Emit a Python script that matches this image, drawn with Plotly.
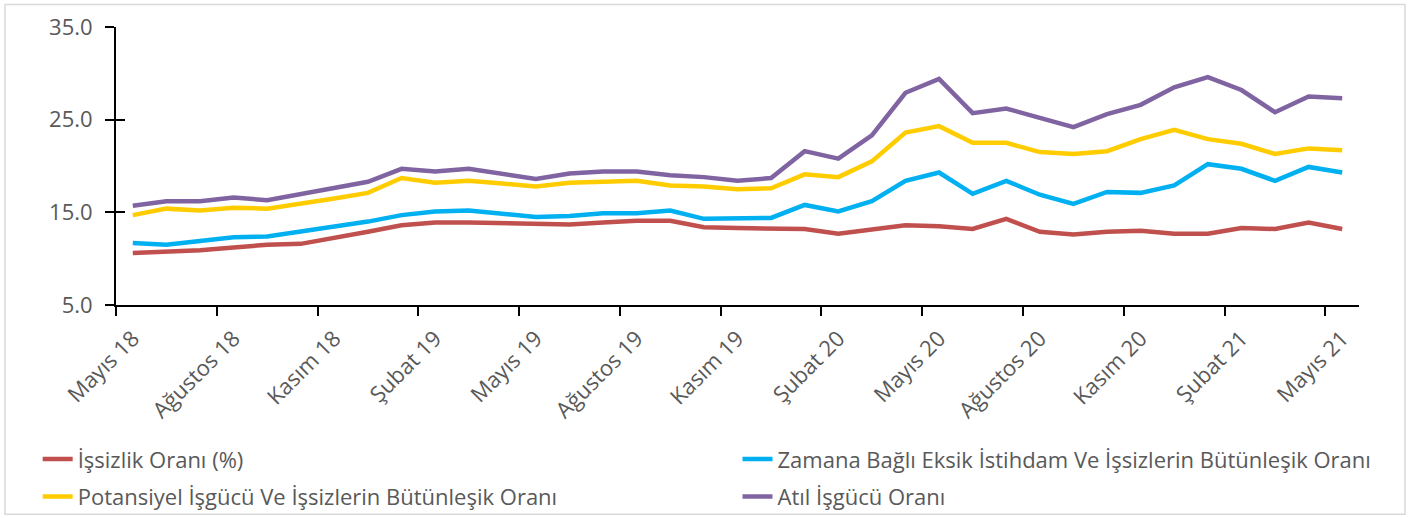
import plotly.graph_objects as go

months = ["Mayıs 18", "Haziran 18", "Temmuz 18", "Ağustos 18", "Eylül 18", "Ekim 18", "Kasım 18",
          "Aralık 18", "Ocak 19", "Şubat 19", "Mart 19", "Nisan 19", "Mayıs 19", "Haziran 19",
          "Temmuz 19", "Ağustos 19", "Eylül 19", "Ekim 19", "Kasım 19", "Aralık 19", "Ocak 20",
          "Şubat 20", "Mart 20", "Nisan 20", "Mayıs 20", "Haziran 20", "Temmuz 20", "Ağustos 20",
          "Eylül 20", "Ekim 20", "Kasım 20", "Aralık 20", "Ocak 21", "Şubat 21", "Mart 21",
          "Nisan 21", "Mayıs 21"]

issizlik = [10.6, 10.7, 10.9, 11.2, 11.5, 11.6, 12.2, 12.9, 13.6, 13.9, 13.9, 13.8, 13.7, 13.7,
            13.9, 14.1, 14.1, 13.4, 13.3, 13.3, 13.2, 12.7, 13.1, 13.6, 13.5, 13.2, 14.3, 12.9,
            12.6, 12.9, 13.0, 12.7, 12.7, 13.3, 13.2, 13.9, 13.2]
zamana = [11.7, 11.5, 11.9, 12.3, 12.4, 12.9, 13.4, 14.0, 14.7, 15.1, 15.2, 14.9, 14.5, 14.6,
          14.9, 14.9, 15.2, 14.3, 14.3, 14.4, 15.8, 15.1, 16.2, 18.4, 19.3, 17.0, 18.4, 16.9,
          15.9, 17.2, 17.1, 17.9, 20.2, 19.7, 18.4, 19.9, 19.3]
potansiyel = [14.7, 15.4, 15.2, 15.5, 15.4, 15.9, 16.5, 17.1, 18.7, 18.2, 18.4, 18.1, 17.8, 18.2,
              18.3, 18.4, 17.9, 17.8, 17.5, 17.6, 19.1, 18.8, 20.5, 23.6, 24.3, 22.5, 22.5, 21.5,
              21.3, 21.6, 22.9, 23.9, 22.9, 22.4, 21.3, 21.9, 21.7]
atil = [15.7, 16.2, 16.2, 16.6, 16.3, 17.0, 17.6, 18.3, 19.7, 19.4, 19.7, 19.1, 18.6, 19.2,
        19.4, 19.4, 19.0, 18.8, 18.4, 18.7, 21.6, 20.8, 23.3, 27.9, 29.4, 25.7, 26.2, 25.2,
        24.2, 25.6, 26.6, 28.5, 29.6, 28.2, 25.8, 27.5, 27.3]

series_names = ["İşsizlik Oranı (%)",
                "Zamana Bağlı Eksik İstihdam Ve İşsizlerin Bütünleşik Oranı",
                "Potansiyel İşgücü Ve İşsizlerin Bütünleşik Oranı",
                "Atıl İşgücü Oranı"]
series_values = [issizlik, zamana, potansiyel, atil]
series_colors = ["#C0504D", "#00B0F0", "#FFCC00", "#8064A2"]
series_legend = ["legend", "legend2", "legend", "legend2"]

y_ticks = [5, 15, 25, 35]
label_step = 3

FONT = "Open Sans"
GRAY = "#595959"

idx = list(range(len(months)))
fig = go.Figure()
for i, (name, vals, col, lg) in enumerate(zip(series_names, series_values, series_colors, series_legend)):
    fig.add_trace(go.Scatter(x=idx, y=vals, name=name, mode="lines", legend=lg,
                             legendgroup=f"g{i}",
                             text=months, hovertemplate="%{text}: %{y:.1f}<extra></extra>",
                             line=dict(color=col, width=4.5)))

# invisible trace on a second y axis to draw the inner half of the crossing y ticks
fig.add_trace(go.Scatter(x=[idx[0]], y=[y_ticks[0]], yaxis="y2", mode="lines",
                         showlegend=False, hoverinfo="skip", line=dict(width=0)))

tickvals = idx[::label_step]
ticktext = months[::label_step]
boundaries = [v - 0.5 for v in tickvals]

legend_common = dict(orientation="v", xanchor="left", yanchor="top",
                     bgcolor="rgba(0,0,0,0)", traceorder="grouped", tracegroupgap=6,
                     font=dict(family=FONT, size=22, color=GRAY))

fig.update_layout(
    width=1420, height=518,
    margin=dict(l=116, r=61, t=27, b=213, autoexpand=False),
    paper_bgcolor="white", plot_bgcolor="white",
    font=dict(family=FONT, color=GRAY),
    showlegend=True,
    legend=dict(x=-0.063, y=-0.479, **legend_common),
    legend2=dict(x=0.500, y=-0.479, **legend_common),
    xaxis=dict(range=[-0.5, len(months) - 0.5], tickmode="array", tickvals=tickvals,
               ticktext=ticktext, tickangle=-45, ticks="", showgrid=False, zeroline=False,
               showline=True, linecolor="black", linewidth=2, automargin=False,
               ticklabelstandoff=10,
               tickfont=dict(family=FONT, size=22, color=GRAY),
               minor=dict(tickmode="array", tickvals=boundaries, ticks="outside",
                          ticklen=9, tickwidth=2, tickcolor="black", showgrid=False)),
    yaxis=dict(range=[5, 35], tickmode="array", tickvals=y_ticks, tickformat=".1f",
               ticks="outside", ticklen=9, tickwidth=2, tickcolor="black", automargin=False,
               showgrid=False, zeroline=False, showline=True, linecolor="black", linewidth=2,
               ticklabelstandoff=8,
               tickfont=dict(family=FONT, size=22, color=GRAY)),
    yaxis2=dict(range=[5, 35], overlaying="y", side="left", tickmode="array", tickvals=y_ticks,
                ticks="inside", ticklen=9, tickwidth=2, tickcolor="black",
                showticklabels=False, showgrid=False, zeroline=False, showline=False),
)

fig.add_shape(type="rect", xref="paper", yref="paper",
              x0=-0.0893, x1=1.037, y0=-0.753, y1=1.081,
              line=dict(color="#D9D9D9", width=1.5), fillcolor="rgba(0,0,0,0)", layer="below")

fig.write_html("out.html", config={"displayModeBar": False},
               post_script="document.body.style.margin='0';document.body.style.overflow='hidden';")
